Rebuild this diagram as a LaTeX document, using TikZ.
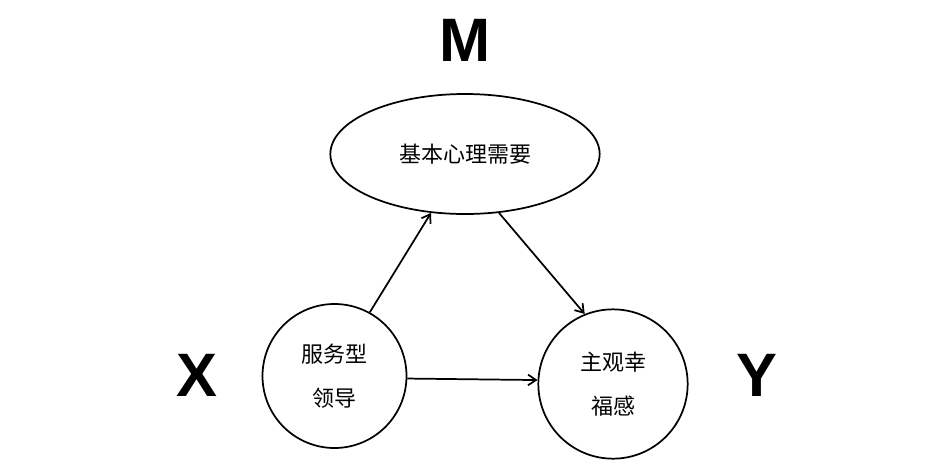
\documentclass[tikz,border=0pt]{standalone}
\usepackage{fontspec}
\setmainfont{Liberation Sans}
\newfontfamily\cjk{Noto Sans CJK SC}
\usetikzlibrary{shapes.geometric,arrows.meta}

\begin{document}
\begin{tikzpicture}[x=0.75pt,y=-0.75pt]

      \useasboundingbox (0,0) rectangle (936,472);

      % Nodes
      \begin{scope}[every node/.style={draw,line width=1.3pt,inner sep=0pt,align=center,
          font=\cjk\fontsize{16.5}{33}\selectfont}]
        \node[ellipse,minimum width=202pt,minimum height=90pt] (m) at (465,154) {基本心理需要};
        \node[circle,minimum size=108pt] (x) at (334.5,376) {服务型\\领导};
        \node[circle,minimum size=112pt] (y) at (613,384) {主观幸\\福感};
      \end{scope}

      % Labels
      \begin{scope}[every node/.style={font=\fontsize{46}{46}\selectfont\bfseries}]
        \node (lm) at (465,40) {M};
        \node (lx) at (197,375) {X};
        \node (ly) at (757,375) {Y};
      \end{scope}

      % Edges
      \begin{scope}[every edge/.style={draw,line width=1.3pt,-{Straight Barb[length=6pt,width=8pt]}}]
        \path (x.61) edge (m.240);
        \path (m.300) edge (y.112);
        \path (x.-2) edge (y.177);
      \end{scope}

    \end{tikzpicture}
\end{document}
